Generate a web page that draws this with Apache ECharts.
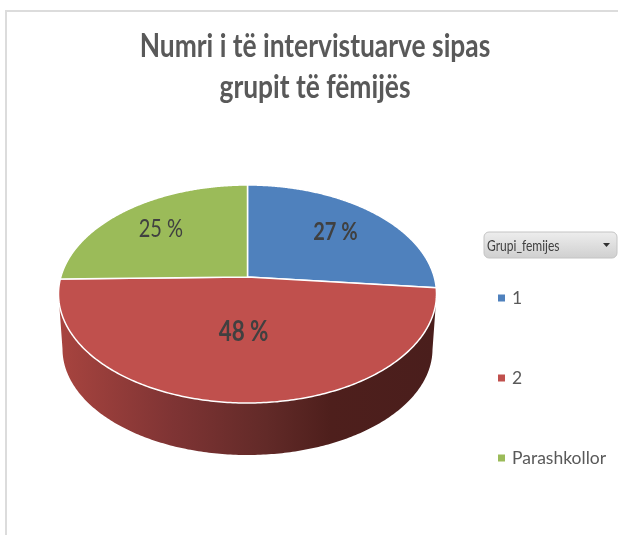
<!DOCTYPE html>
<html>
<head>
<meta charset="utf-8">
<style>html,body{margin:0;padding:0;background:#fff}#c{width:618px;height:535px}</style>
<script src="https://cdn.jsdelivr.net/npm/echarts@6/dist/echarts.min.js"></script>
</head>
<body>
<div id="c"></div>
<script>
const categories = ['1', '2', 'Parashkollor'];
const values = [26.6, 48.1, 25.3];
const percentLabels = ['27 %', '48 %', '25 %'];
const colors = ['#4f81bd', '#c0504d', '#9bbb59'];
const titleLines = ['Numri i të intervistuarve sipas', 'grupit të fëmijës'];
const filterText = 'Grupi_femijes';

const FONT = 'Lato, "Open Sans", sans-serif';
const geo = { cx: 247.5, cy: 294, rx: 189, ry: 109, k: 0.156, cy2: 349, rx2: 185, ry2: 106 };
const labelStyle = [
  { r: 0.68, weight: 'bold', size: 25 },
  { r: 0.48, weight: 'bold', size: 28 },
  { r: 0.7, weight: 'normal', size: 25 }
];
const total = values.reduce((a, b) => a + b, 0);

function unitPoint(theta, r) {
  const u = Math.sin(theta) * r, v = -Math.cos(theta) * r, d = 1 - geo.k * v;
  return [u * Math.sqrt(1 - geo.k * geo.k) / d, (v - geo.k) / d];
}
const topFace = p => [geo.cx + p[0] * geo.rx, geo.cy + p[1] * geo.ry];
const baseFace = p => [geo.cx + p[0] * geo.rx2, geo.cy2 + p[1] * geo.ry2];

function renderSlice(params, api) {
  const i = params.seriesIndex;
  const before = values.slice(0, i).reduce((a, b) => a + b, 0);
  const a0 = before / total * Math.PI * 2;
  const a1 = (before + api.value(0)) / total * Math.PI * 2;
  const steps = 240, arc = [];
  for (let s = 0; s <= steps; s++) arc.push(unitPoint(a0 + (a1 - a0) * s / steps, 1));
  const children = [];
  const front = arc.filter(p => p[1] >= 0);
  if (front.length > 1) {
    children.push({
      type: 'polygon',
      shape: { points: front.map(topFace).concat(front.slice().reverse().map(baseFace)) },
      style: {
        fill: { type: 'linear', x: 0, y: 0, x2: 1, y2: 0, colorStops: [
          { offset: 0, color: '#a8443f' },
          { offset: 0.3, color: '#7f3434' },
          { offset: 0.55, color: '#622a28' },
          { offset: 0.72, color: '#4e1f1c' },
          { offset: 1, color: '#4a1e1c' }
        ] }
      }
    });
  }
  children.push({
    type: 'polygon',
    shape: { points: [topFace(unitPoint(0, 0))].concat(arc.map(topFace)) },
    style: { fill: api.visual('color'), stroke: '#ffffff', lineWidth: 1.5, lineJoin: 'round' }
  });
  const lp = topFace(unitPoint((a0 + a1) / 2, labelStyle[i].r));
  children.push({
    type: 'text',
    x: lp[0], y: lp[1], scaleX: 0.8,
    style: {
      text: percentLabels[i], fill: '#404040', align: 'center', verticalAlign: 'middle',
      font: labelStyle[i].weight + ' ' + labelStyle[i].size + 'px ' + FONT
    }
  });
  return { type: 'group', children };
}

const titleGraphics = titleLines.map((t, i) => ({
  type: 'text', silent: true, x: 315, y: 47 + i * 41, scaleX: 0.824,
  style: { text: t, fill: '#595959', align: 'center', verticalAlign: 'middle', font: 'bold 32px ' + FONT }
}));

const chart = echarts.init(document.getElementById('c'), null, { renderer: 'canvas' });
chart.setOption({
  animation: false,
  backgroundColor: '#ffffff',
  color: colors,
  legend: {
    orient: 'vertical', left: 493, top: 284,
    data: categories, icon: 'rect', itemWidth: 7, itemHeight: 7, itemGap: 62,
    selectedMode: false,
    textStyle: { fontFamily: FONT, fontSize: 17.5, color: '#595959', padding: [0, 0, 0, 2] }
  },
  series: categories.map((name, i) => ({
    type: 'custom', name, coordinateSystem: 'none', silent: true,
    renderItem: renderSlice, data: [[values[i]]]
  })),
  graphic: titleGraphics.concat([
    { type: 'line', silent: true, shape: { x1: 6, y1: 11, x2: 618, y2: 11 }, style: { stroke: '#dcdcdc', lineWidth: 2 } },
    { type: 'line', silent: true, shape: { x1: 6, y1: 10, x2: 6, y2: 535 }, style: { stroke: '#dcdcdc', lineWidth: 2 } },
    { type: 'rect', silent: true, shape: { x: 484, y: 232, width: 133, height: 26, r: 5 },
      style: { stroke: '#c4c4c4', lineWidth: 1, fill: { type: 'linear', x: 0, y: 0, x2: 0, y2: 1, colorStops: [
        { offset: 0, color: '#eeeeee' }, { offset: 1, color: '#cfcfcf' } ] } } },
    { type: 'text', silent: true, x: 487, y: 246, scaleX: 0.83,
      style: { text: filterText, fill: '#404040', verticalAlign: 'middle', font: '14.5px ' + FONT } },
    { type: 'polygon', silent: true, shape: { points: [[603, 243], [610, 243], [606.5, 247]] }, style: { fill: '#303030' } }
  ])
});
</script>
</body>
</html>
